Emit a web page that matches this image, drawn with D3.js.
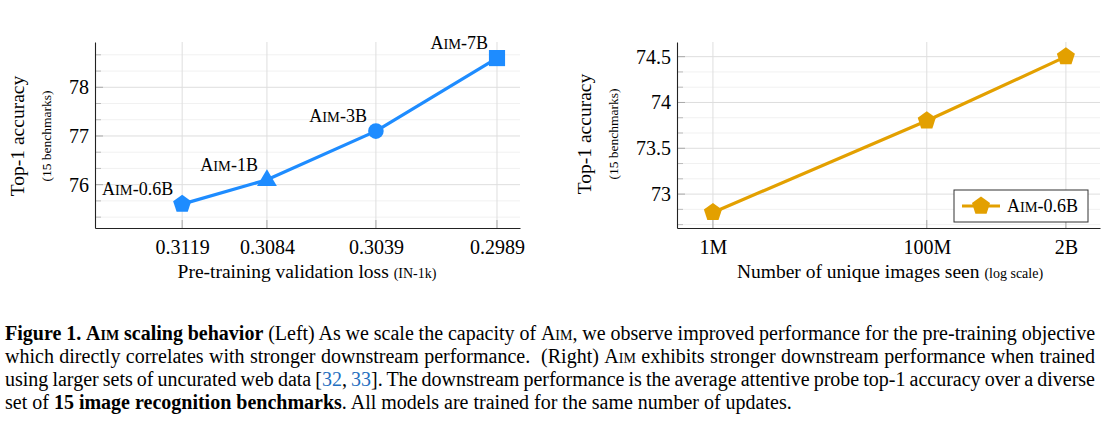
<!DOCTYPE html>
<html>
<head>
<meta charset="utf-8">
<script src="https://cdn.jsdelivr.net/npm/d3@7"></script>
<style>
  html, body { margin: 0; padding: 0; background: #fff; }
  body { width: 1105px; height: 426px; position: relative; overflow: hidden; font-family: "Liberation Serif", "Times New Roman", serif; }
  svg { position: absolute; left: 0; top: 0; }
  #caption { position: absolute; left: 5px; top: 322px; width: 1090px; font-size: 20px; line-height: 23px; color: #000; }
  #caption div { white-space: nowrap; text-align: justify; text-align-last: justify; }
  #caption div.last { text-align-last: left; }
  .sc { font-variant: small-caps; }
  .ref { color: #1f6fc0; }
</style>
</head>
<body>
<svg id="chart" width="1105" height="300"></svg>
<div id="caption"></div>
<script>
// ---------- data ----------
const leftLoss = [0.3119, 0.3084, 0.3039, 0.2989];
const leftAcc = [75.6, 76.1, 77.1, 78.6];
const leftModels = ["0.6B", "1B", "3B", "7B"];
const leftMarkers = ["pentagon", "triangle", "circle", "square"];
const leftYTicks = [76, 77, 78];
const leftXTickLabels = ["0.3119", "0.3084", "0.3039", "0.2989"];

const rightImages = [1e6, 1e8, 2e9];
const rightAcc = [72.8, 73.8, 74.5];
const rightXTickLabels = ["1M", "100M", "2B"];
const rightYTicks = [73, 73.5, 74, 74.5];
const rightLegend = "0.6B";

const blue = "#1e8cff";
const orange = "#e3a000";
const font = '"Liberation Serif", "Times New Roman", serif';

const svg = d3.select("#chart");

function markerPath(type, r) {
  if (type === "pentagon") {
    const pts = d3.range(5).map(i => {
      const a = -Math.PI / 2 + i * 2 * Math.PI / 5;
      return [r * Math.cos(a), r * Math.sin(a)];
    });
    return "M" + pts.map(p => p.join(",")).join("L") + "Z";
  }
  if (type === "triangle") {
    const h = r * 1.1;
    return `M0,${-h}L${h * 0.95},${h * 0.6}L${-h * 0.95},${h * 0.6}Z`;
  }
  if (type === "square") {
    const s = r * 0.85;
    return `M${-s},${-s}H${s}V${s}H${-s}Z`;
  }
  const c = r * 0.82;
  return `M${c},0A${c},${c} 0 1,1 ${-c},0A${c},${c} 0 1,1 ${c},0Z`;
}

function aimLabel(sel, suffix, size) {
  sel.append("tspan").attr("font-size", size).text("A");
  sel.append("tspan").attr("font-size", size * 0.8).text("IM");
  sel.append("tspan").attr("font-size", size).text("-" + suffix);
}

function drawFrame(g, x, y, opts) {
  const [x0, x1] = x.range();
  const [yb, yt] = y.range();
  g.append("g").selectAll("line").data(opts.minor).join("line")
    .attr("x1", x0).attr("x2", x1)
    .attr("y1", d => y(d)).attr("y2", d => y(d))
    .attr("stroke", "#f1f1f1").attr("stroke-width", 1);
  g.append("g").selectAll("line").data(opts.major).join("line")
    .attr("x1", x0).attr("x2", x1)
    .attr("y1", d => y(d)).attr("y2", d => y(d))
    .attr("stroke", "#dedede").attr("stroke-width", 1);
  g.append("g").selectAll("line").data(opts.xticks).join("line")
    .attr("x1", d => x(d)).attr("x2", d => x(d))
    .attr("y1", yt).attr("y2", yb)
    .attr("stroke", "#dedede").attr("stroke-width", 1);
  g.append("g").selectAll("line").data(opts.minor).join("line")
    .attr("x1", x0).attr("x2", x0 + 6)
    .attr("y1", d => y(d)).attr("y2", d => y(d))
    .attr("stroke", "#bbb").attr("stroke-width", 1);
  g.append("g").selectAll("line").data(opts.major).join("line")
    .attr("x1", x0).attr("x2", x0 + 8)
    .attr("y1", d => y(d)).attr("y2", d => y(d))
    .attr("stroke", "#aaa").attr("stroke-width", 1);
  g.append("g").selectAll("line").data(opts.xticks).join("line")
    .attr("x1", d => x(d)).attr("x2", d => x(d))
    .attr("y1", yb).attr("y2", yb - 8)
    .attr("stroke", "#aaa").attr("stroke-width", 1);
  g.append("g").attr("transform", `translate(0,${yb})`)
    .call(d3.axisBottom(x).tickValues(opts.xticks).tickSize(0).tickPadding(0).tickFormat((d, i) => opts.xlabels[i]))
    .call(a => a.select(".domain").attr("stroke", "#222").attr("stroke-width", 1.1))
    .call(a => a.selectAll("text").attr("font-family", font).attr("font-size", 20).attr("fill", "#000").attr("dy", null).attr("y", 26));
  g.append("g").attr("transform", `translate(${x0},0)`)
    .call(d3.axisLeft(y).tickValues(opts.major).tickSize(0).tickPadding(6).tickFormat(d => String(d)))
    .call(a => a.select(".domain").attr("stroke", "#222").attr("stroke-width", 1.1))
    .call(a => a.selectAll("text").attr("font-family", font).attr("font-size", 20).attr("fill", "#000"));
}

function yTitle(g, cx, cy) {
  g.append("text").attr("transform", `translate(${cx},${cy}) rotate(-90)`)
    .attr("text-anchor", "middle").attr("font-family", font).attr("font-size", 19.5)
    .text("Top-1 accuracy");
  g.append("text").attr("transform", `translate(${cx + 27},${cy}) rotate(-90)`)
    .attr("text-anchor", "middle").attr("font-family", font).attr("font-size", 13.5)
    .text("(15 benchmarks)");
}

// ---------- left chart ----------
{
  const x = d3.scaleLinear().domain([0.3155, 0.29795]).range([95, 520]);
  const y = d3.scaleLinear().domain([75.11, 78.93]).range([228, 42]);
  const minor = d3.range(75.3333, 78.9, 1 / 3).filter(v => Math.abs(v - Math.round(v)) > 0.05);
  const g = svg.append("g");
  drawFrame(g, x, y, { major: leftYTicks, minor, xticks: leftLoss, xlabels: leftXTickLabels });
  const pts = leftLoss.map((d, i) => [x(d), y(leftAcc[i])]);
  g.append("path").datum(pts).attr("d", d3.line()).attr("fill", "none")
    .attr("stroke", blue).attr("stroke-width", 3.2).attr("stroke-linejoin", "round");
  g.selectAll(".mk").data(pts).join("path").attr("class", "mk")
    .attr("transform", d => `translate(${d[0]},${d[1]})`)
    .attr("d", (d, i) => markerPath(leftMarkers[i], 9.5)).attr("fill", blue);
  pts.forEach((p, i) => {
    const t = g.append("text").attr("x", p[0] - 9).attr("y", p[1] - 9)
      .attr("text-anchor", "end").attr("font-family", font).attr("fill", "#000");
    aimLabel(t, leftModels[i], 18);
  });
  yTitle(g, 24, 136);
  const xt = g.append("text").attr("x", 307).attr("y", 278).attr("text-anchor", "middle").attr("font-family", font);
  xt.append("tspan").attr("font-size", 19.5).text("Pre-training validation loss ");
  xt.append("tspan").attr("font-size", 14).text("(IN-1k)");
}

// ---------- right chart ----------
{
  const x = d3.scaleLog().domain([Math.pow(10, 5.664), Math.pow(10, 9.62)]).range([677, 1100]);
  const y = d3.scaleLinear().domain([72.63, 74.66]).range([228, 42]);
  const minor = d3.range(72.6667, 74.66, 1 / 6).filter(v => Math.abs(v * 2 - Math.round(v * 2)) > 0.05);
  const g = svg.append("g");
  drawFrame(g, x, y, { major: rightYTicks, minor, xticks: rightImages, xlabels: rightXTickLabels });
  const pts = rightImages.map((d, i) => [x(d), y(rightAcc[i])]);
  g.append("path").datum(pts).attr("d", d3.line()).attr("fill", "none")
    .attr("stroke", orange).attr("stroke-width", 3.2).attr("stroke-linejoin", "round");
  g.selectAll(".mk").data(pts).join("path").attr("class", "mk")
    .attr("transform", d => `translate(${d[0]},${d[1]})`)
    .attr("d", markerPath("pentagon", 9.5)).attr("fill", orange);
  yTitle(g, 591, 134);
  const xt = g.append("text").attr("x", 890).attr("y", 278).attr("text-anchor", "middle").attr("font-family", font);
  xt.append("tspan").attr("font-size", 19.5).text("Number of unique images seen ");
  xt.append("tspan").attr("font-size", 14).text("(log scale)");
  const lg = g.append("g");
  lg.append("rect").attr("x", 954).attr("y", 190).attr("width", 134).attr("height", 32)
    .attr("fill", "#fff").attr("stroke", "#333").attr("stroke-width", 1);
  lg.append("line").attr("x1", 962).attr("x2", 1000).attr("y1", 206).attr("y2", 206)
    .attr("stroke", orange).attr("stroke-width", 3.2);
  lg.append("path").attr("transform", "translate(981,206)").attr("d", markerPath("pentagon", 9.5)).attr("fill", orange);
  const lt = lg.append("text").attr("x", 1007).attr("y", 212).attr("font-family", font).attr("fill", "#000");
  aimLabel(lt, rightLegend, 18);
}

// ---------- caption ----------
const captionLines = [
  '<b>Figure 1. <span class="sc">Aim</span> scaling behavior</b> (Left) As we scale the capacity of <span class="sc">Aim</span>, we observe improved performance for the pre-training objective',
  'which directly correlates with stronger downstream performance. &nbsp;(Right) <span class="sc">Aim</span> exhibits stronger downstream performance when trained',
  'using larger sets of uncurated web data [<span class="ref">32</span>, <span class="ref">33</span>]. The downstream performance is the average attentive probe top-1 accuracy over a diverse',
  'set of <b>15 image recognition benchmarks</b>. All models are trained for the same number of updates.'
];
const capW = 1090;
const rows = d3.select("#caption").selectAll("div").data(captionLines).join("div")
  .attr("class", (d, i) => i === captionLines.length - 1 ? "last" : null)
  .html(d => `<span class="in">${d}</span>`);
// shrink inter-word spacing (like TeX) on lines that are too long, then justify
rows.each(function () {
  const inner = this.querySelector(".in");
  const w = inner.getBoundingClientRect().width;
  if (w > capW) {
    const spaces = (inner.textContent.match(/\s/g) || []).length || 1;
    let ws = (capW - w) / spaces - 0.05;
    if (ws < -2.2) {
      ws = -2.2;
      this.style.wordSpacing = ws + "px";
      const w2 = inner.getBoundingClientRect().width;
      const chars = inner.textContent.length;
      this.style.letterSpacing = ((capW - w2) / chars - 0.02) + "px";
    } else {
      this.style.wordSpacing = ws + "px";
    }
  }
  inner.outerHTML = inner.innerHTML;
});
</script>
</body>
</html>
